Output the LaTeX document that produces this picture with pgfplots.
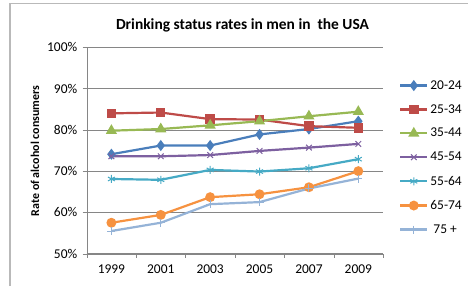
\documentclass[border=0pt]{standalone}
\usepackage{pgfplots}
\pgfplotsset{compat=1.18}
\usepackage{fontspec}
\setmainfont{Carlito}
\definecolor{c1}{HTML}{4A7EBB}
\definecolor{c2}{HTML}{BE4B48}
\definecolor{c3}{HTML}{98B954}
\definecolor{c4}{HTML}{7D60A0}
\definecolor{c5}{HTML}{46AAC5}
\definecolor{c6}{HTML}{F69240}
\definecolor{c7}{HTML}{95B3D7}
\definecolor{gl}{HTML}{868686}
\pgfplotstableread{
x a b c d e f g
0 74.1 84.0 79.8 73.6 68.1 57.5 55.5
1 76.2 84.2 80.2 73.6 67.9 59.4 57.5
2 76.2 82.6 81.1 73.9 70.3 63.7 62.0
3 78.9 82.5 82.1 74.9 69.9 64.4 62.5
4 80.2 80.9 83.3 75.7 70.7 66.1 65.8
5 82.1 80.5 84.4 76.6 72.9 70.0 68.2
}\data
\begin{document}
\begin{tikzpicture}[x=1bp,y=1bp]
\begin{axis}[
  scale only axis, width=296.3bp, height=206.4bp,
  xmin=-0.5, xmax=5.5, ymin=50, ymax=100,
  axis x line*=bottom, axis y line*=left,
  axis line style={gl, -},
  xtick={0,...,5}, xticklabels={1999,2001,2003,2005,2007,2009},
  minor xtick={-0.5,0.5,...,5.5},
  major x tick style={draw=none},
  minor x tick style={gl},
  ytick={50,60,...,100},
  yticklabel={\pgfmathprintnumber{\tick}\%},
  ymajorgrids, grid style={gl, line width=0.6bp},
  y tick style={gl},
  tick align=outside,
  major tick length=4bp, minor tick length=4bp,
  tick label style={font=\fontsize{13.5}{15}\selectfont},
  /pgf/number format/assume math mode=true,
  xticklabel style={yshift=-4bp},
  yticklabel style={xshift=-2bp},
  every axis plot/.append style={line width=2.2bp, mark options={solid}},
  legend style={at={(1.054,0.85)}, anchor=north west, draw=none, fill=none,
    font=\fontsize{13.5}{15}\selectfont, row sep=9.7bp, inner sep=0pt,
    cells={anchor=west}},
  legend image code/.code={\draw[mark repeat=2,mark phase=2] plot coordinates {(0bp,0bp) (13.5bp,0bp) (27bp,0bp)};},
  clip=false,
]
\addplot[c1, mark=diamond*, mark size=3.8bp, mark options={fill=c1}] table[x=x,y=a] {\data};
\addlegendentry{20-24}
\addplot[c2, mark=square*, mark size=3.6bp, mark options={fill=c2}] table[x=x,y=b] {\data};
\addlegendentry{25-34}
\addplot[c3, mark=triangle*, mark size=4.3bp, mark options={fill=c3}] table[x=x,y=c] {\data};
\addlegendentry{35-44}
\addplot[c4, mark=x, mark size=4bp, mark options={line width=1bp}] table[x=x,y=d] {\data};
\addlegendentry{45-54}
\addplot[c5, mark=asterisk, mark size=4bp, mark options={line width=1bp}] table[x=x,y=e] {\data};
\addlegendentry{55-64}
\addplot[c6, mark=*, mark size=3.8bp, mark options={fill=c6}] table[x=x,y=f] {\data};
\addlegendentry{65-74}
\addplot[c7, mark=+, mark size=4bp, mark options={line width=1bp}] table[x=x,y=g] {\data};
\addlegendentry{\ 75 +}
\coordinate (BL) at (rel axis cs:0,0);
\end{axis}
\path[use as bounding box] (BL) ++(-86.7,-32.3) rectangle ++(468,286);
\draw[gray!55, line width=1.2bp] ([shift={(-76.7,-32.3)}]BL) -- ([shift={(-76.7,250.2)}]BL) -- ([shift={(381.3,250.2)}]BL);
\node[font=\fontsize{15.5}{17}\selectfont\bfseries] at ([shift={(155.8,228.7)}]BL) {Drinking status rates in men in\ \ the USA};
\node[font=\fontsize{12}{14}\selectfont\bfseries, rotate=90] at ([shift={(-51.7,102.7)}]BL) {Rate of alcohol consumers};
\end{tikzpicture}
\end{document}
